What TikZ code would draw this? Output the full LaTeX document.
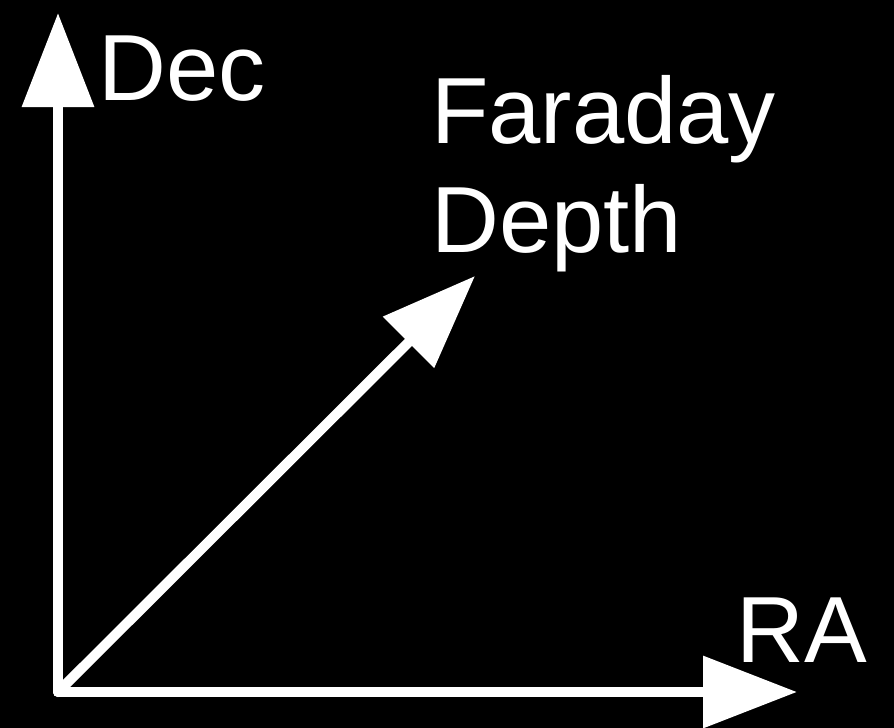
\documentclass[tikz,border=0pt]{standalone}
\usepackage{fontspec}
\setmainfont{Liberation Sans}
\usetikzlibrary{arrows.meta}

\tikzset{
  axis/.style={draw=white, line width=10pt, line cap=round,
    -{Triangle[length=94pt, width=70pt]}},
  axislabel/.style={text=white, inner sep=0pt, anchor=base west,
    font=\fontsize{94}{109}\selectfont}
}

\begin{document}
\begin{tikzpicture}[x=1pt, y=-1pt]

% ---- background ----
\fill[black] (0,0) rectangle (894,728);
\useasboundingbox (0,0) rectangle (894,728);

% ---- axes ----
\coordinate (origin) at (58,692);
\coordinate (dectip) at (58,13);
\coordinate (ratip) at (797,692);
\coordinate (fdtip) at (475,276);

\draw[axis] (origin) -- (dectip);
\draw[axis] (origin) -- (ratip);
\draw[axis] (origin) -- (fdtip);

% ---- labels ----
\node[axislabel] (dec) at (98,100) {Dec};
\node[axislabel, align=left] (fd) at (431,252) {Faraday\\Depth};
\node[axislabel] (ra) at (736,662) {RA};

\end{tikzpicture}
\end{document}
